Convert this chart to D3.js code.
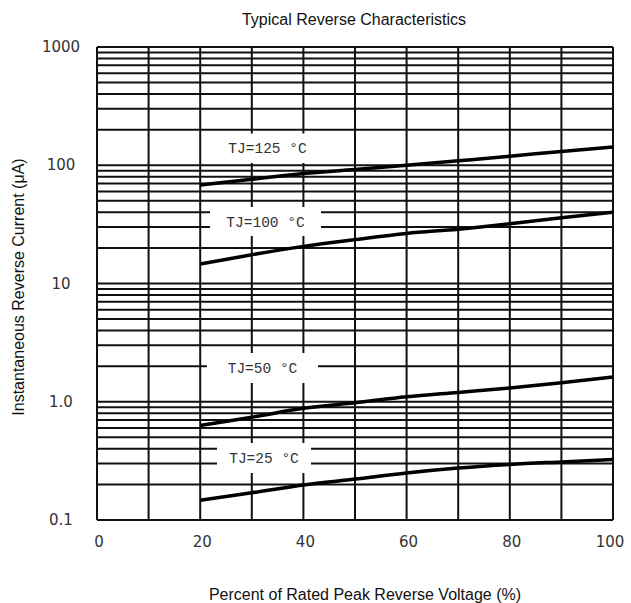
<!DOCTYPE html>
<html><head><meta charset="utf-8">
<script src="https://cdn.jsdelivr.net/npm/d3@7"></script>
<style>body{margin:0;background:#fff}svg{display:block}</style>
</head><body>
<svg id="c" width="631" height="603"></svg>
<script>
const voltage = [20, 30, 40, 50, 60, 70, 80, 90, 100];
const tj125 = [68, 76, 85, 92, 100, 109, 119, 131, 143];
const tj100 = [14.6, 17.5, 20.6, 23.5, 26.5, 28.8, 32, 36, 40];
const tj50 = [0.63, 0.74, 0.88, 0.98, 1.1, 1.2, 1.31, 1.45, 1.62];
const tj25 = [0.147, 0.17, 0.198, 0.222, 0.25, 0.275, 0.295, 0.31, 0.325];
const seriesNames = ["TJ=125 °C", "TJ=100 °C", "TJ=50 °C", "TJ=25 °C"];
const xTicks = [0, 20, 40, 60, 80, 100];
const yTicks = [1000, 100, 10, 1, 0.1];
const yTickLabels = ["1000", "100", "10", "1.0", "0.1"];

const svg = d3.select("#c");
const L = 97, R = 613, T = 47, B = 520;
const x = d3.scaleLinear().domain([0, 100]).range([L, R]);
const y = d3.scaleLog().domain([0.1, 1000]).range([B, T]);

const g = svg.append("g");
// vertical grid
g.selectAll(".vg").data(d3.range(0, 101, 10)).join("line")
  .attr("x1", d => x(d)).attr("x2", d => x(d)).attr("y1", T).attr("y2", B)
  .attr("stroke", "#111").attr("stroke-width", 2);
// horizontal grid
const hv = [];
for (let e = -1; e < 3; e++) for (let m = 1; m <= 9; m++) hv.push(m * Math.pow(10, e));
hv.push(1000);
g.selectAll(".hg").data(hv).join("line")
  .attr("x1", L).attr("x2", R).attr("y1", d => y(d)).attr("y2", d => y(d))
  .attr("stroke", "#111").attr("stroke-width", 2);

// label boxes (white) covering grid
const boxes = [
  {x0: 212, x1: 323, y0: 133.5, y1: 163, t: seriesNames[0]},
  {x0: 210, x1: 321, y0: 207, y1: 236, t: seriesNames[1]},
  {x0: 207, x1: 318, y0: 353, y1: 383, t: seriesNames[2]},
  {x0: 217, x1: 311, y0: 443, y1: 473, t: seriesNames[3]}
];
svg.selectAll(".box").data(boxes).join("rect")
  .attr("x", d => d.x0).attr("y", d => d.y0)
  .attr("width", d => d.x1 - d.x0).attr("height", d => d.y1 - d.y0)
  .attr("fill", "#fff");
svg.selectAll(".lbl").data(boxes).join("text")
  .attr("x", d => (d.x0 + d.x1) / 2).attr("y", d => (d.y0 + d.y1) / 2 + 5)
  .attr("text-anchor", "middle")
  .attr("font-family", "Liberation Mono, DejaVu Sans Mono, monospace")
  .attr("font-size", 14.5).attr("fill", "#333")
  .text(d => d.t);

// curves
const line = d3.line().x((d, i) => x(voltage[i])).y(d => y(d)).curve(d3.curveMonotoneX);
[tj125, tj100, tj50, tj25].forEach(s => {
  svg.append("path").attr("d", line(s)).attr("fill", "none")
    .attr("stroke", "#000").attr("stroke-width", 3.5);
});

// tick labels
const tf = "DejaVu Sans, sans-serif";
svg.selectAll(".xt").data(xTicks).join("text")
  .attr("x", d => x(d) + (d === 100 ? -3 : 2)).attr("y", 547)
  .attr("text-anchor", "middle").attr("font-family", tf)
  .attr("font-size", 15).attr("fill", "#333").text(d => d);
svg.selectAll(".yt").data(yTicks).join("text")
  .attr("x", 61).attr("y", d => y(d) + 5)
  .attr("text-anchor", "middle").attr("font-family", tf)
  .attr("font-size", 15).attr("fill", "#333").text((d, i) => yTickLabels[i]);

// titles
const af = "Liberation Sans, Arial, sans-serif";
svg.append("text").attr("x", 354).attr("y", 25).attr("text-anchor", "middle")
  .attr("font-family", af).attr("font-size", 16).attr("fill", "#111")
  .text("Typical Reverse Characteristics");
svg.append("text").attr("x", 365).attr("y", 600).attr("text-anchor", "middle")
  .attr("font-family", af).attr("font-size", 16).attr("fill", "#111")
  .text("Percent of Rated Peak Reverse Voltage (%)");
svg.append("text").attr("transform", "translate(24,287) rotate(-90)")
  .attr("text-anchor", "middle")
  .attr("font-family", af).attr("font-size", 16).attr("fill", "#111")
  .text("Instantaneous Reverse Current (μA)");
</script>
</body></html>
